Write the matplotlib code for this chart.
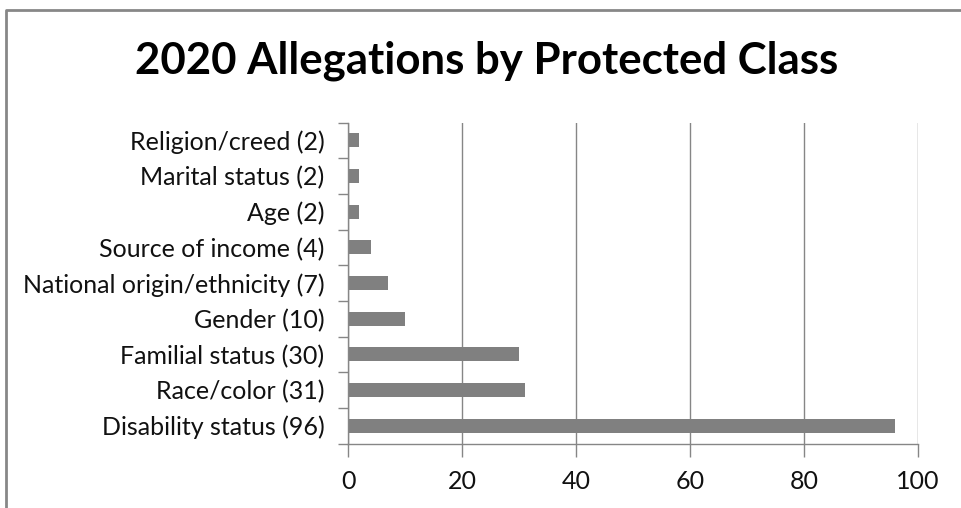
import matplotlib as mpl
mpl.use('Agg')
import matplotlib.pyplot as plt
from matplotlib.lines import Line2D

# bottom to top, same order as the chart
classes = ['Disability status', 'Race/color', 'Familial status', 'Gender',
           'National origin/ethnicity', 'Source of income', 'Age',
           'Marital status', 'Religion/creed']
counts = [96, 31, 30, 10, 7, 4, 2, 2, 2]
labels = ['%s (%d)' % (c, n) for c, n in zip(classes, counts)]
x_ticks = [0, 20, 40, 60, 80, 100]

plt.rcParams['font.family'] = ['Lato', 'DejaVu Sans']
grey = '#868686'

fig = plt.figure(figsize=(9.62, 5.08), dpi=100)
ax = fig.add_axes([348/962, 1 - 443.5/508, 570/962, 321/508])

pos = list(range(len(counts)))
ax.barh(pos, counts, height=0.4, color='#808080', zorder=3)

ax.set_xlim(0, 100)
ax.set_ylim(-0.5, len(counts) - 0.5)
ax.set_xticks(x_ticks)
ax.set_yticks(pos)
ax.set_yticklabels(labels)
ax.set_yticks([p - 0.5 for p in range(len(counts) + 1)], minor=True)

ax.tick_params(axis='y', which='major', length=0, pad=17, labelsize=18, labelcolor='#111111')
ax.tick_params(axis='y', which='minor', length=7, width=1, color=grey)
ax.tick_params(axis='x', length=9, width=1, color=grey, pad=10, labelsize=18, labelcolor='#111111')

ax.grid(axis='x', color=grey, linewidth=1, zorder=0)
for s in ['top', 'right']:
    ax.spines[s].set_visible(False)
for s in ['left', 'bottom']:
    ax.spines[s].set_color(grey)
    ax.spines[s].set_linewidth(1)
ax.spines['left'].set_zorder(4)

fig.text(487/962, 1 - 61/508, '2020 Allegations by Protected Class', ha='center', va='center',
         fontsize=31.5, fontweight='bold', color='black')

# chart frame (only left and top edges are inside the picture)
fig.add_artist(Line2D([6/962, 6/962, 1], [0, 1 - 10/508, 1 - 10/508],
                      transform=fig.transFigure, color='#878787', linewidth=2))

fig.savefig('out.png', dpi=100)
